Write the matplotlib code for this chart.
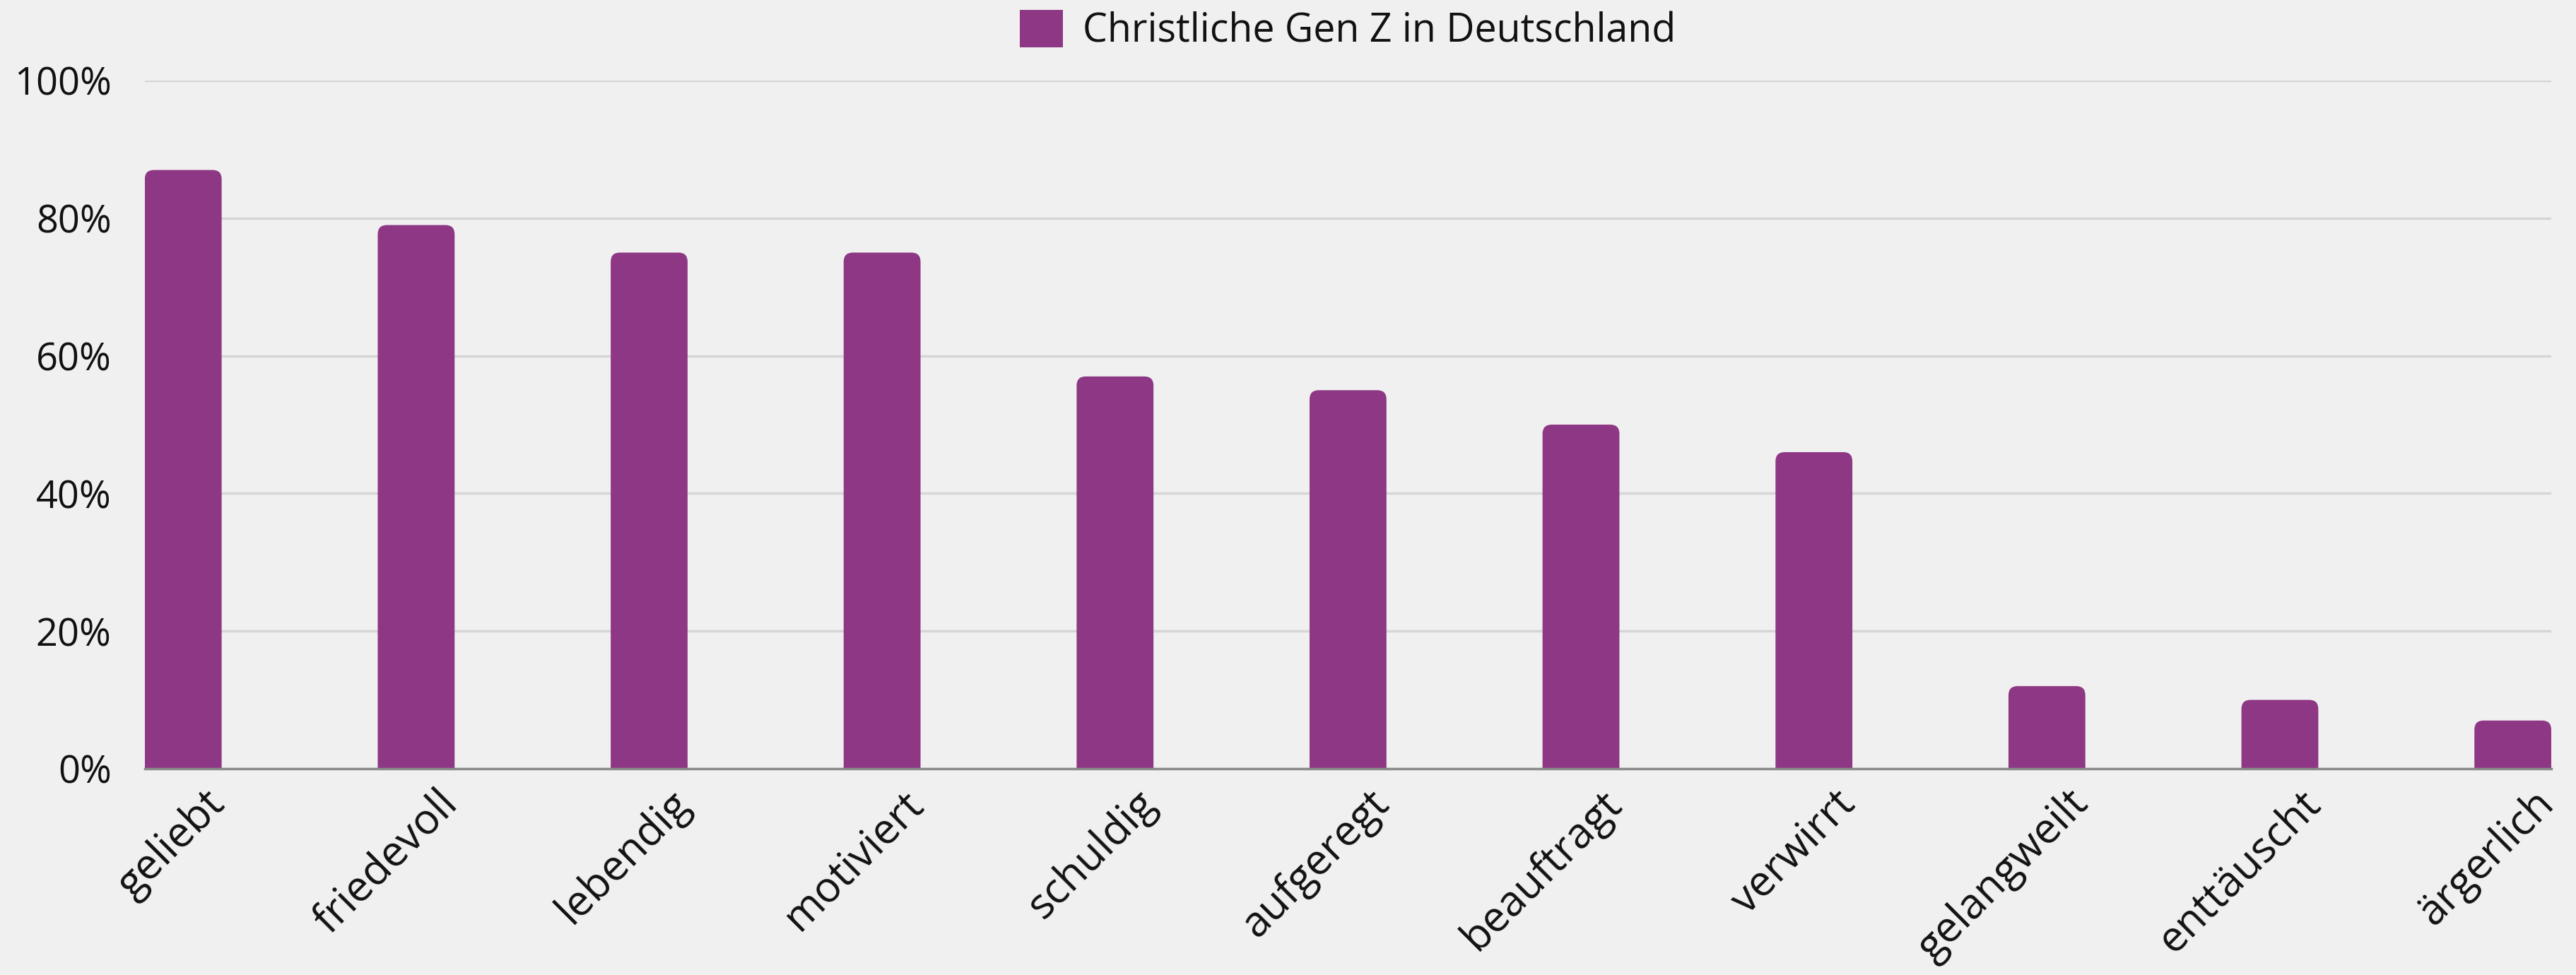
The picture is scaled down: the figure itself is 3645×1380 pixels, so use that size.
import matplotlib
matplotlib.use("Agg")
import matplotlib.pyplot as plt
from matplotlib.patches import FancyBboxPatch, Patch
from matplotlib.ticker import FuncFormatter
import matplotlib.transforms as mtransforms

categories = ["geliebt", "friedevoll", "lebendig", "motiviert", "schuldig", "aufgeregt",
              "beauftragt", "verwirrt", "gelangweilt", "enttäuscht", "ärgerlich"]
values = [87, 79, 75, 75, 57, 55, 50, 46, 12, 10, 7]
series_name = "Christliche Gen Z in Deutschland"
ytick_values = [0, 20, 40, 60, 80, 100]

BG = "#f0f0f0"
BAR = "#8e3785"
FONT = "Open Sans"

fig = plt.figure(figsize=(36.45, 13.8), dpi=100, facecolor=BG)
ax = fig.add_axes([0.0562, 0.2116, 0.9342, 0.7058], facecolor=BG)

width = 0.33
bars = ax.bar(range(len(categories)), values, width=width, color=BAR, zorder=3)

ax.set_xlim(-width / 2, len(categories) - 1 + width / 2)
ax.set_ylim(0, 100)

# rounded top corners: replace rectangles with rounded boxes extending below baseline
fig.canvas.draw()
px_x = ax.transData.transform((1, 0))[0] - ax.transData.transform((0, 0))[0]
px_y = ax.transData.transform((0, 1))[1] - ax.transData.transform((0, 0))[1]
r_px = 13
rx = r_px / px_x
aspect = px_x / px_y
for b in bars:
    x0, w, h = b.get_x(), b.get_width(), b.get_height()
    b.set_visible(False)
    p = FancyBboxPatch((x0, -5), w, h + 5,
                       boxstyle=f"round,pad=0,rounding_size={rx}",
                       mutation_aspect=aspect,
                       facecolor=BAR, edgecolor="none", zorder=3, clip_on=True)
    ax.add_patch(p)

ax.set_yticks(ytick_values)
ax.yaxis.set_major_formatter(FuncFormatter(lambda v, p: f"{int(v)}%"))
ax.grid(axis="y", color="#d6d6d6", linewidth=2.5, zorder=0)
ax.set_axisbelow(True)
for s in ["top", "right", "left"]:
    ax.spines[s].set_visible(False)
ax.spines["bottom"].set_color("#8a8a8a")
ax.spines["bottom"].set_linewidth(2.5)
ax.spines["bottom"].set_zorder(4)

ax.tick_params(axis="y", length=0, pad=34, labelsize=39, labelcolor="#111111")
ax.tick_params(axis="x", length=0, pad=14, labelcolor="#111111")
for lab in ax.get_yticklabels():
    lab.set_fontfamily(FONT)

ax.set_xticks(range(len(categories)))
ax.set_xticklabels(categories, rotation=45, ha="right", va="top",
                   rotation_mode="anchor", fontsize=43, fontfamily=FONT)
offset = mtransforms.ScaledTranslation(20 / 72, 0, fig.dpi_scale_trans)
for lab in ax.get_xticklabels():
    lab.set_transform(lab.get_transform() + offset)

handle = Patch(facecolor=BAR, edgecolor="none")
leg = ax.legend([handle], [series_name], loc="center", bbox_to_anchor=(0.5, 1.072),
                frameon=False, handlelength=1.1, handleheight=1.1, handletextpad=0.5,
                prop={"family": FONT, "size": 40})
for t in leg.get_texts():
    t.set_color("#111111")

fig.savefig("out.png", dpi=100, facecolor=BG)
